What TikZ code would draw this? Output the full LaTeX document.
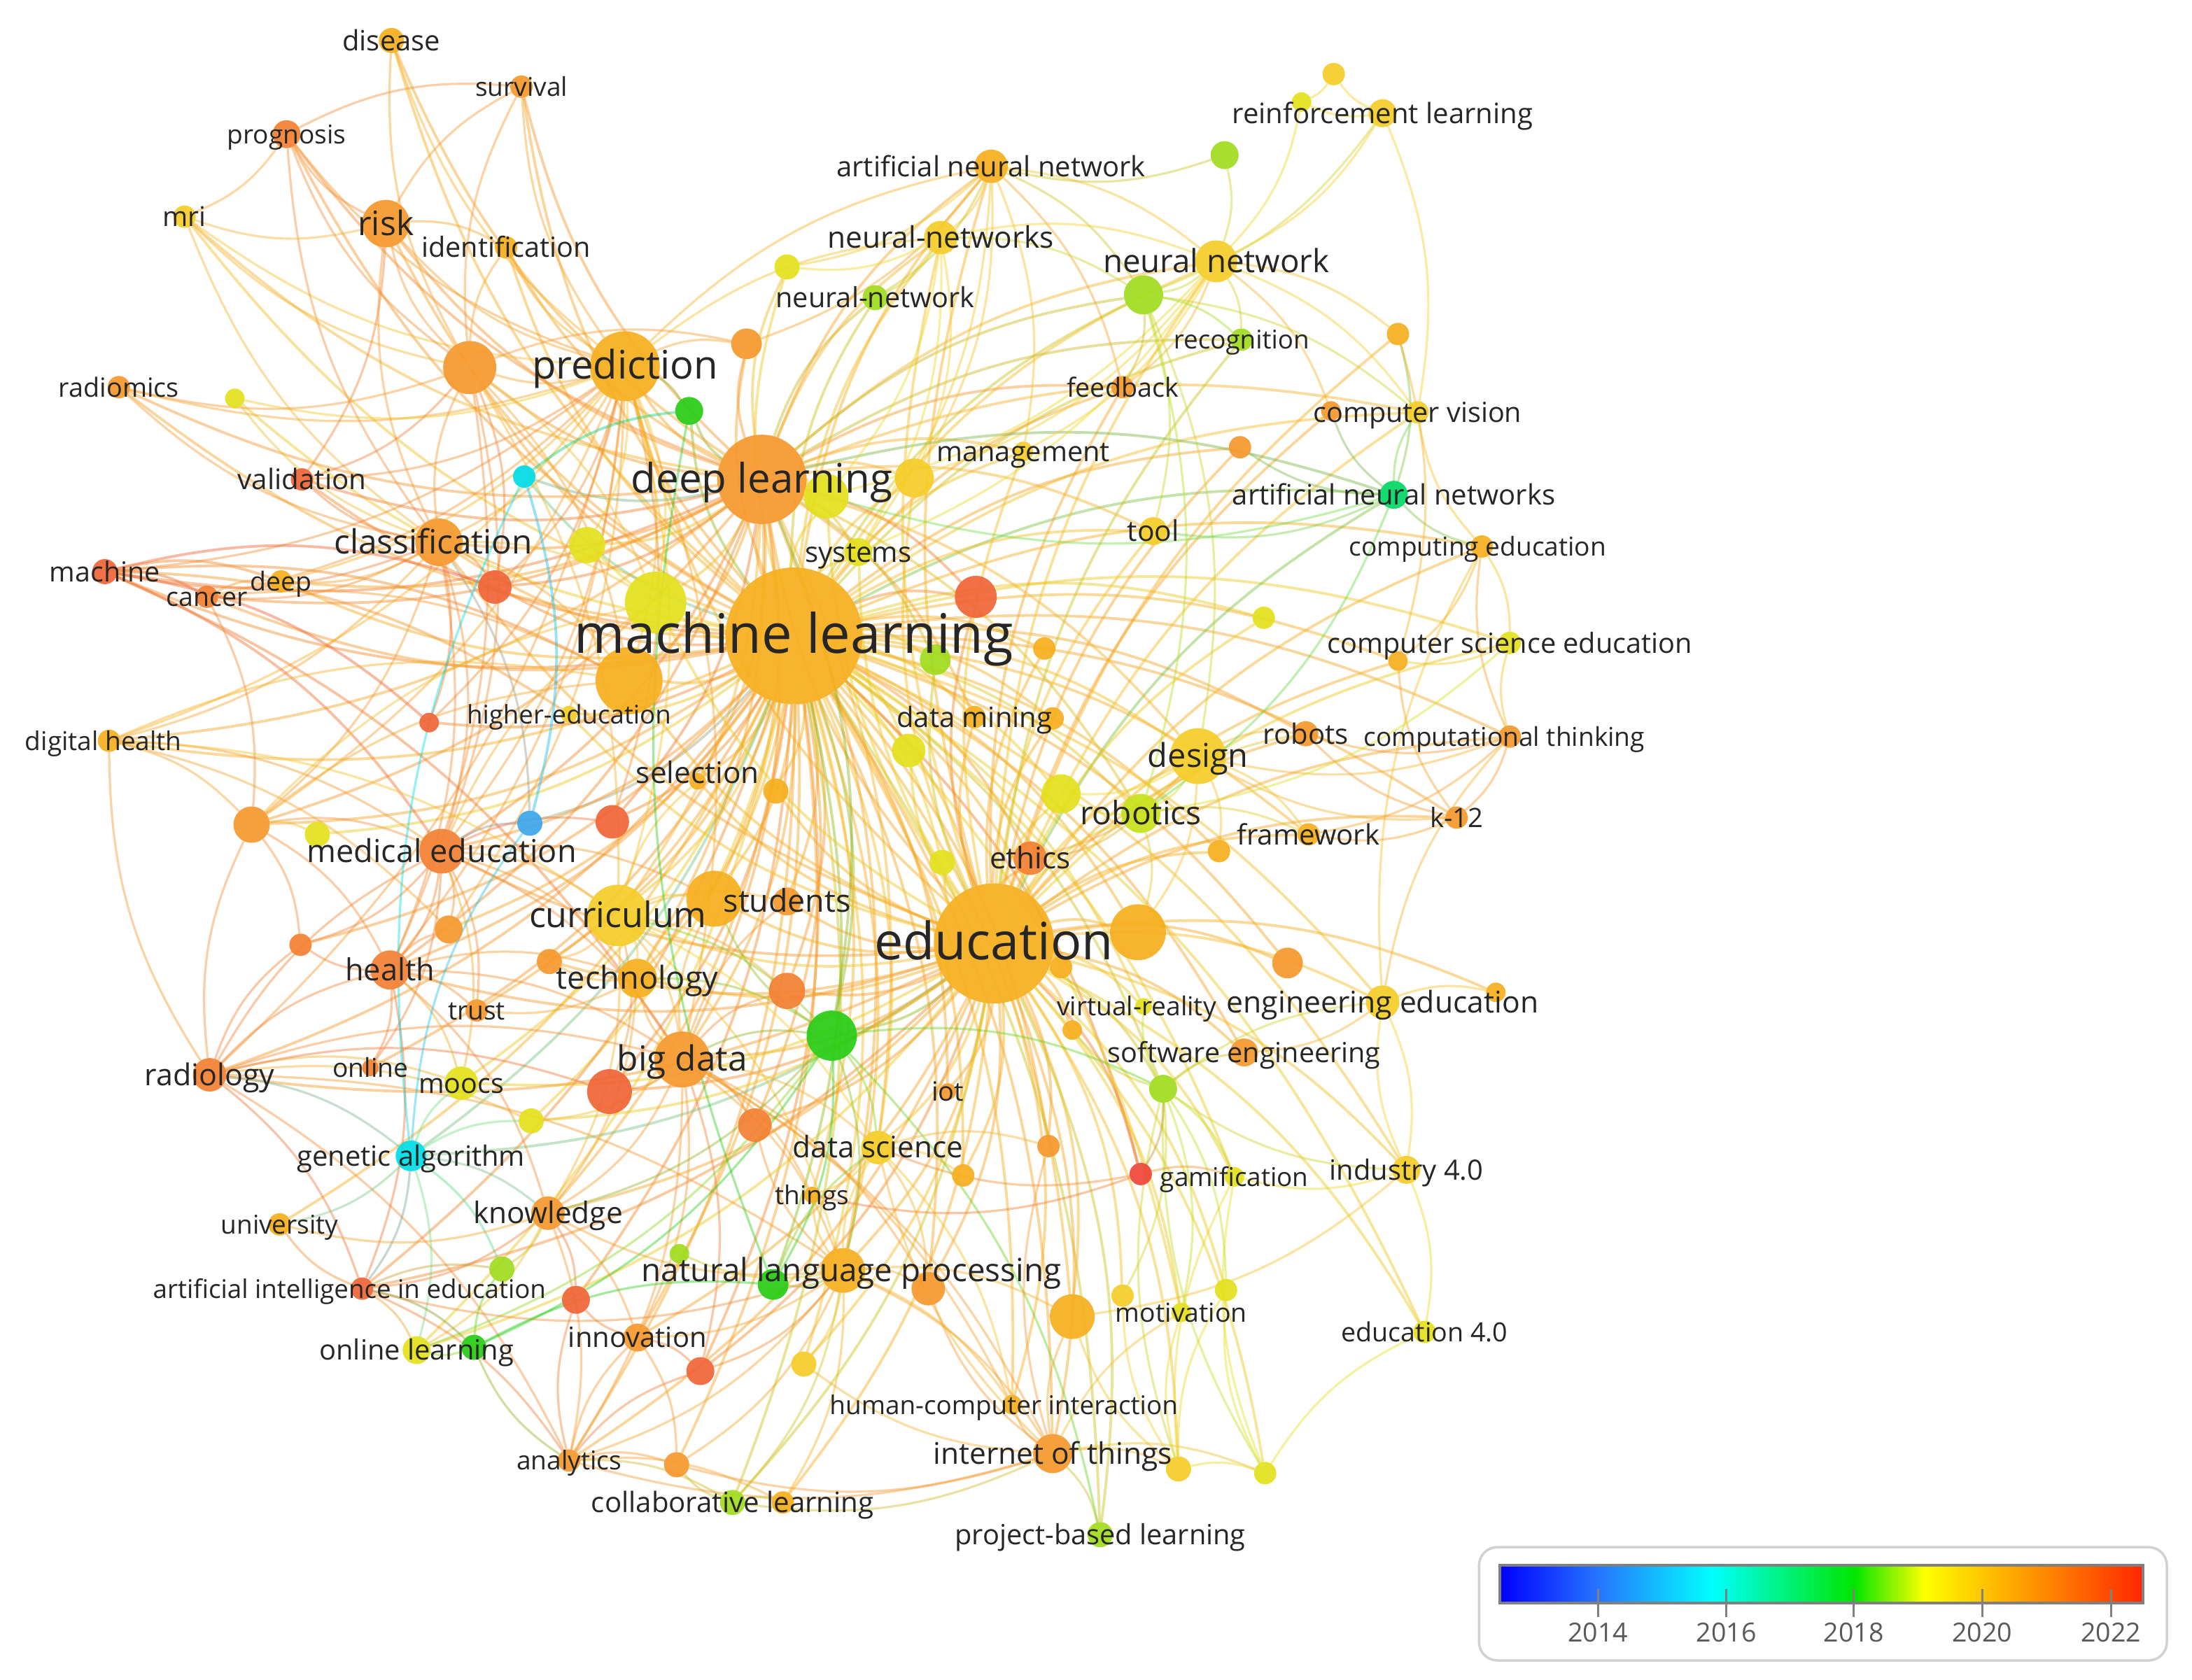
\documentclass[tikz,border=0pt]{standalone}
\usepackage{fontspec}
\setmainfont{Open Sans}
\usepackage{graphicx}
\pgfdeclarelayer{background}
\pgfsetlayers{background,main}
\newlength\pxu \setlength\pxu{0.2mm}
\definecolor{C1}{RGB}{0,220,230}
\definecolor{C2}{RGB}{60,165,235}
\definecolor{G0}{RGB}{0,215,100}
\definecolor{G1}{RGB}{40,205,20}
\definecolor{G2}{RGB}{160,220,30}
\definecolor{YG}{RGB}{200,225,25}
\definecolor{Y1}{RGB}{228,225,30}
\definecolor{Y2}{RGB}{245,205,40}
\definecolor{O1}{RGB}{247,175,30}
\definecolor{O2}{RGB}{246,152,45}
\definecolor{O3}{RGB}{244,128,50}
\definecolor{R1}{RGB}{240,100,55}
\definecolor{R2}{RGB}{238,70,55}
\pgfdeclarehorizontalshading{yearmap}{100bp}{rgb(0bp)=(0,0,1); rgb(25bp)=(0,0,1); rgb(32.5bp)=(0.15,0.45,1); rgb(41.5bp)=(0,1,1); rgb(52.5bp)=(0,0.9,0); rgb(58bp)=(1,1,0); rgb(66bp)=(1,0.6,0); rgb(75bp)=(1,0.15,0); rgb(100bp)=(1,0.15,0)}
\newcommand\lab[2]{\resizebox{#1\pxu}{!}{\vphantom{lg}#2}}
\newcommand\nd[5]{\colorlet{c#1}{#5}\node[dot,fill=c#1,minimum size=#4*0.4mm] (#1) at (#2,#3) {};}
\newcommand\lb[4][]{\node[lbl,#1] (#2-t) at (#2) {\lab{#3}{#4}};}
\newcommand\Es[3][]{\foreach \tg in {#3}{\draw[lnk,#1,draw=c#2!50!c\tg] (#2) to[bend left=16] (\tg);}}
\begin{document}
\begin{tikzpicture}[x=0.2mm,y=-0.2mm,
  dot/.style={circle,inner sep=0pt,outer sep=0pt,draw=none,fill opacity=0.92},
  lbl/.style={inner sep=0pt,text=black!85,yshift=-0.4mm},
  lnk/.style={line width=0.32mm,draw opacity=0.42},
  hub/.style={line width=0.38mm,draw opacity=0.45},
  tk/.style={inner sep=0pt,text=black!65}]
\useasboundingbox (0,0) rectangle (1568,1202);
\begin{pgfonlayer}{background}
\fill[white] (0,0) rectangle (1568,1202);
\end{pgfonlayer}
% ---------------- nodes ----------------
\nd{dis}{280}{29}{9}{O1}
\nd{sur}{373}{62}{8}{O2}
\nd{pro}{205}{96}{10}{O3}
\nd{mri}{132}{155}{8}{Y2}
\nd{risk}{276}{160}{17}{O2}
\nd{ide}{362}{177}{8}{O1}
\nd{u1}{336}{263}{19}{O2}
\nd{pred}{447}{262}{25}{O1}
\nd{u2}{534}{246}{11}{O2}
\nd{u3}{493}{294}{10}{G1}
\nd{rad}{85}{277}{8}{O2}
\nd{u4}{168}{285}{7}{Y1}
\nd{val}{216}{343}{8}{R1}
\nd{u5}{375}{341}{8}{C1}
\nd{cla}{314}{388}{17}{O2}
\nd{u6}{420}{390}{13}{Y1}
\nd{mac}{75}{409}{9}{R1}
\nd{dee}{201}{416}{8}{O1}
\nd{can}{148}{427}{8}{O3}
\nd{dl}{545}{343}{32}{O2}
\nd{rl}{989}{81}{10}{Y2}
\nd{u7}{954}{53}{8}{Y2}
\nd{u8}{931}{73}{7}{Y1}
\nd{u9}{876}{111}{10}{G2}
\nd{ann}{709}{119}{12}{O1}
\nd{nns}{673}{170}{12}{Y2}
\nd{u10}{563}{191}{9}{Y1}
\nd{nnw}{626}{213}{9}{G2}
\nd{nn}{870}{187}{15}{Y2}
\nd{u11}{818}{211}{14}{G2}
\nd{rec}{888}{243}{8}{G2}
\nd{fee}{803}{277}{8}{O2}
\nd{u12}{1000}{239}{8}{O1}
\nd{cv}{1014}{295}{8}{Y2}
\nd{u13}{952}{294}{7}{O2}
\nd{man}{732}{323}{7}{Y2}
\nd{u14}{654}{342}{14}{Y2}
\nd{u15}{591}{355}{16}{Y1}
\nd{u16}{887}{320}{8}{O2}
\nd{anns}{997}{354}{10}{G0}
\nd{tool}{825}{380}{10}{Y2}
\nd{sys}{614}{395}{10}{Y1}
\nd{ce}{1060}{391}{8}{O1}
\nd{u17}{698}{427}{15}{R1}
\nd{u18}{354}{420}{12}{R1}
\nd{u19}{469}{431}{22}{Y1}
\nd{u20}{450}{487}{24}{O1}
\nd{he}{407}{511}{6}{Y2}
\nd{u21}{307}{517}{7}{R1}
\nd{dh}{78}{530}{8}{O1}
\nd{sel}{499}{559}{6}{O1}
\nd{u22}{180}{590}{13}{O2}
\nd{u23}{227}{597}{9}{Y1}
\nd{u24}{379}{589}{9}{C2}
\nd{u25}{438}{588}{12}{R1}
\nd{med}{316}{609}{16}{O3}
\nd{cur}{442}{655}{22}{Y2}
\nd{u40}{511}{643}{20}{O1}
\nd{stu}{563}{645}{10}{O2}
\nd{u26}{321}{665}{10}{O2}
\nd{u27}{215}{676}{8}{O3}
\nd{hea}{279}{694}{14}{O3}
\nd{u28}{393}{688}{9}{O2}
\nd{tec}{456}{700}{14}{O1}
\nd{tru}{341}{723}{8}{O2}
\nd{onl}{265}{764}{6}{O3}
\nd{rady}{150}{769}{12}{O3}
\nd{moo}{330}{775}{12}{Y1}
\nd{bd}{488}{758}{20}{O2}
\nd{u29}{436}{781}{16}{R1}
\nd{u30}{380}{802}{9}{Y1}
\nd{ml}{568}{455}{49}{O1}
\nd{u32}{669}{472}{11}{G2}
\nd{u33}{747}{464}{8}{O1}
\nd{dm}{697}{513}{8}{O1}
\nd{u34}{753}{514}{8}{O1}
\nd{u35}{650}{537}{12}{Y1}
\nd{u36}{555}{566}{9}{O1}
\nd{u37}{759}{568}{14}{Y1}
\nd{des}{857}{541}{20}{Y2}
\nd{rob}{934}{525}{9}{O2}
\nd{ct}{1080}{527}{8}{O2}
\nd{robo}{816}{582}{14}{YG}
\nd{fw}{936}{597}{8}{O1}
\nd{u38}{872}{609}{8}{O1}
\nd{k12}{1042}{585}{8}{O2}
\nd{u39}{674}{617}{9}{Y1}
\nd{eth}{737}{614}{12}{O3}
\nd{edu}{711}{675}{43}{O1}
\nd{u41}{814}{667}{20}{O1}
\nd{u42}{759}{692}{8}{O1}
\nd{u43}{921}{689}{11}{O2}
\nd{u44}{563}{709}{13}{O3}
\nd{el}{595}{741}{18}{G1}
\nd{vr}{818}{720}{6}{Y1}
\nd{ee}{989}{717}{12}{Y2}
\nd{u45}{1070}{710}{7}{O1}
\nd{u46}{767}{737}{7}{O1}
\nd{se}{890}{753}{10}{O2}
\nd{u47}{832}{779}{10}{G2}
\nd{iot}{678}{781}{6}{O2}
\nd{u48}{540}{805}{12}{O3}
\nd{ga}{294}{827}{11}{C1}
\nd{uni}{200}{876}{8}{O1}
\nd{kno}{392}{868}{12}{O2}
\nd{u49}{359}{908}{9}{G2}
\nd{aie}{259}{922}{8}{R1}
\nd{u50}{412}{930}{10}{R1}
\nd{u51}{486}{897}{7}{G2}
\nd{ol}{298}{966}{10}{Y1}
\nd{u52}{339}{964}{9}{G1}
\nd{inn}{456}{957}{10}{O2}
\nd{u53}{501}{981}{10}{R1}
\nd{ana}{407}{1045}{8}{O2}
\nd{u54}{484}{1048}{9}{O2}
\nd{cl}{524}{1075}{9}{G2}
\nd{u55}{560}{1075}{8}{O1}
\nd{ds}{628}{821}{12}{Y2}
\nd{thi}{581}{855}{6}{O1}
\nd{u56}{689}{841}{8}{O1}
\nd{u57}{750}{820}{8}{O2}
\nd{u58}{816}{840}{8}{R2}
\nd{gam}{883}{842}{7}{Y1}
\nd{ind}{1006}{837}{10}{Y2}
\nd{nlp}{603}{909}{16}{O1}
\nd{u59}{553}{919}{11}{G1}
\nd{u60}{664}{922}{12}{O2}
\nd{u61}{767}{942}{16}{O1}
\nd{u62}{803}{927}{8}{Y2}
\nd{u63}{877}{923}{8}{Y1}
\nd{mot}{845}{939}{7}{Y1}
\nd{e40}{1019}{953}{8}{Y1}
\nd{u64}{575}{976}{9}{Y2}
\nd{hci}{724}{1005}{7}{O1}
\nd{iotg}{753}{1040}{14}{O2}
\nd{u65}{843}{1051}{9}{Y2}
\nd{u66}{905}{1054}{8}{Y1}
\nd{pbl}{787}{1098}{9}{G2}
\nd{u67}{904}{442}{8}{Y1}
\nd{cse}{1080}{460}{8}{Y1}
\nd{u68}{1000}{473}{7}{O1}
% ---------------- links ----------------
\begin{pgfonlayer}{background}
\Es[hub]{ml}{dis,sur,pro,mri,risk,ide,u1,pred,u2,u3,rad,u4,val,u5,cla,u6,mac,dee,can,dl,ann,nns,u10,nnw,nn,u11,rec,fee,cv,man,u14,u15,u16,anns,tool,sys,ce,u17,u18,u19,u20,he,u21,dh,sel,u22,u23,u24,u25,med,cur,stu,u40,u26,u27,hea,u28,tec,tru,onl,rady,moo,bd,u29,u30,u32,u33,dm,u34,u35,u36,u37,des,rob,robo,fw,u38,u39,eth,edu,u41,u42,u43,u44,el,vr,ee,se,u47,iot,u48,ga,uni,kno,aie,u50,ol,inn,u53,ana,u54,cl,ds,thi,u56,u57,u58,gam,nlp,u59,u60,u61,mot,u64,hci,iotg,pbl,u67,cse,u68,ct,k12,ind,e40}
\Es[hub]{edu}{dl,pred,cla,cur,u40,stu,tec,bd,el,med,hea,des,rob,robo,fw,u38,ct,k12,cse,ce,anns,tool,man,ann,nns,nn,eth,u41,u42,u43,vr,ee,u45,se,u46,u47,iot,ds,u56,u57,u58,gam,ind,nlp,u60,u61,u62,u63,mot,e40,hci,iotg,u65,u66,pbl,kno,inn,ana,cl,u55,u64,u53,ol,aie,ga,moo,rady,u28,u44,u48,u36,u37,u39,u35,dm,u34,u19,u20,sel,sys,u14,u15,u17,u33,u32,u68,u67,fee,u16,u12,u13,cv,rec,he,u29,u30}
\Es[hub]{dl}{pred,u1,risk,ide,sur,pro,cla,u2,u3,u5,u6,u10,nnw,nns,ann,nn,u11,man,u14,u15,sys,u17,u19,u20,mac,can,dee,rad,val,mri,dis,cur,u40,bd,med,tec,u18,u25,sel,dm,u32,rec,fee,cv,anns,tool,hea,u22,dh,nlp,ds,el,des,robo}
\Es{pred}{risk,ide,sur,pro,mri,rad,val,u1,u2,u3,cla,u6,u18,u19,u20,ann,nns,dis,mac,can,dee,u4,u22,u26,hea,med,bd,dh,rady,u21,u25,cur}
\Es{cla}{risk,rad,mri,mac,can,dee,val,u1,u18,u19,u20,u22,med,hea,dh,u21,u24,pro,u4}
\Es{u1}{risk,ide,pro,mri,sur,dis,rad,u19,u18,val,med,cur,u20,hea,u2}
\Es{risk}{ide,pro,mri,val,sur}
\Es{pro}{mri,sur}
\Es[hub]{mac}{can,dee,he,u21,bd,med,u20,u18}
\Es{can}{dee,u20,u22}
\Es{rady}{dh,med,hea,u27,bd,ga,u22,moo,u29,ana,aie,nlp,u30}
\Es{dh}{u22,med,u26,cur,u20}
\Es{u22}{med,u23,hea,u27,u20,u19}
\Es{med}{hea,cur,u26,u27,tru,bd,u40,tec,u25,u24,onl,moo,u19}
\Es{hea}{tru,onl,u26,moo,aie,u27,tec,bd,kno}
\Es{cur}{u40,tec,bd,el,sel,u28,kno,ds,nlp,u44,u29,stu}
\Es{bd}{tec,el,u29,u30,ds,nlp,kno,thi,u48,u40,u44,iotg,ana,inn,u53,hci,u60,stu}
\Es{tec}{u28,tru,u40,el,kno}
\Es{ga}{u24,u5,moo,aie,ol,uni,kno,u49,u30}
\Es[hub]{u5}{u3,u24}
\Es{el}{u47,nlp,u59,ds,kno,u40,ol,u52,pbl}
\Es{nlp}{ds,thi,u59,u60,u61,kno,inn,ana,cl,u55,u53,u64,hci,iotg,u48,u51,u54,aie}
\Es{iotg}{hci,u65,u66,u61,pbl,u60,ds,u57,mot,cl,ana,u54,u64}
\Es{u65}{u66,mot,u63,u62,gam,u47,u61}
\Es{u66}{u63,gam,u47,e40}
\Es{ind}{e40,gam,u47,ee,u61}
\Es{u47}{se,vr,gam,mot,u63,u62,u46,ee,u58}
\Es{u58}{gam,thi,ds}
\Es{ee}{u45,se,ce,ct,ind}
\Es{ct}{ce,cse,k12,des,rob,fw}
\Es{k12}{fw,rob,u68,des}
\Es{ce}{anns,cse,u68,cv}
\Es{cse}{u68,robo}
\Es{rl}{u7,u8,nn,u11,cv}
\Es{u7}{u8}
\Es{u8}{nn}
\Es{u9}{ann,nn}
\Es{ann}{nns,nnw,nn,u10,u11,u2,fee,man,u14,sys}
\Es{nns}{nnw,u10,nn,u11,u15,u14,sys}
\Es{nn}{u11,rec,cv,u13,fee,man,u14,u15,sys,u12}
\Es{u11}{rec,fee,cv,tool,robo,des}
\Es{des}{rob,robo,fw,u37,u38,u41,eth}
\Es{robo}{u37,rob,fw,eth,u41}
\Es{u12}{anns,u68}
\Es{anns}{cv,tool,u16,u15,robo,u13}
\Es{kno}{u49,aie,ol,inn,u50,ana,uni}
\Es{aie}{uni,ol,u49,u52,ana}
\Es{ana}{u54,cl,u55,inn,u53,u50,u52}
\Es{cl}{u55,u54}
\Es{inn}{u53,u50,u54}
\Es{u52}{ol,u59,u49}
\Es{u59}{ds,u3}
\Es{ds}{thi,u56,u57,u60,hci}
\end{pgfonlayer}
% ---------------- labels ----------------
\lb{dis}{70}{disease}
\lb{sur}{66}{survival}
\lb{pro}{85}{prognosis}
\lb{mri}{31}{mri}
\lb{risk}{40}{risk}
\lb{ide}{121}{identification}
\lb{pred}{133}{prediction}
\lb{rad}{86}{radiomics}
\lb{val}{92}{validation}
\lb[xshift=-0.8mm]{cla}{142}{classification}
\lb{mac}{79}{machine}
\lb{can}{58}{cancer}
\lb{dee}{44}{deep}
\lb{dl}{187}{deep learning}
\lb{rl}{215}{reinforcement learning}
\lb{ann}{221}{artificial neural network}
\lb{nns}{162}{neural-networks}
\lb{nnw}{142}{neural-network}
\lb{nn}{162}{neural network}
\lb{rec}{97}{recognition}
\lb{fee}{80}{feedback}
\lb{cv}{149}{computer vision}
\lb{man}{124}{management}
\lb{anns}{231}{artificial neural networks}
\lb{tool}{37}{tool}
\lb{sys}{76}{systems}
\lb[xshift=-0.6mm]{ce}{184}{computing education}
\lb{he}{146}{higher-education}
\lb[xshift=-0.8mm]{dh}{112}{digital health}
\lb[yshift=1.2mm]{sel}{88}{selection}
\lb{med}{193}{medical education}
\lb{cur}{127}{curriculum}
\lb{stu}{91}{students}
\lb{hea}{64}{health}
\lb{tec}{116}{technology}
\lb{tru}{41}{trust}
\lb{onl}{54}{online}
\lb{rady}{93}{radiology}
\lb{moo}{61}{moocs}
\lb{bd}{93}{big data}
\lb{ml}{314}{machine learning}
\lb{dm}{111}{data mining}
\lb{des}{72}{design}
\lb{rob}{61}{robots}
\lb[xshift=-0.8mm]{ct}{201}{computational thinking}
\lb{robo}{87}{robotics}
\lb{fw}{102}{framework}
\lb{k12}{38}{k-12}
\lb{eth}{58}{ethics}
\lb{edu}{171}{education}
\lb[xshift=-1mm]{vr}{114}{virtual-reality}
\lb{ee}{223}{engineering education}
\lb{se}{195}{software engineering}
\lb{iot}{23}{iot}
\lb{ga}{163}{genetic algorithm}
\lb{uni}{84}{university}
\lb{kno}{107}{knowledge}
\lb[xshift=-1.8mm]{aie}{281}{artificial intelligence in education}
\lb{ol}{139}{online learning}
\lb{inn}{99}{innovation}
\lb{ana}{75}{analytics}
\lb{cl}{202}{collaborative learning}
\lb{ds}{122}{data science}
\lb{thi}{53}{things}
\lb{gam}{106}{gamification}
\lb{ind}{110}{industry 4.0}
\lb[xshift=1.2mm]{nlp}{300}{natural language processing}
\lb{mot}{94}{motivation}
\lb{e40}{119}{education 4.0}
\lb[xshift=-1.2mm]{hci}{249}{human-computer interaction}
\lb{iotg}{171}{internet of things}
\lb{pbl}{208}{project-based learning}
\lb{cse}{261}{computer science education}
% ---------------- legend ----------------
\draw[black!18,line width=0.35mm,rounded corners=2.6mm,fill=white] (1058,1107) rectangle (1550,1188);
\shade[shading=yearmap] (1073,1120) rectangle (1533,1147);
\draw[black!50,line width=0.4mm] (1073,1120) rectangle (1533,1147);
\foreach \xx/\yr in {1143/2014,1235/2016,1326/2018,1418/2020,1510/2022}{
  \draw[black!50,line width=0.3mm] (\xx,1137) -- (\xx,1157);
  \node[tk] (y\yr) at (\xx,1170) {\lab{43}{\yr}};
}
\end{tikzpicture}
\end{document}
